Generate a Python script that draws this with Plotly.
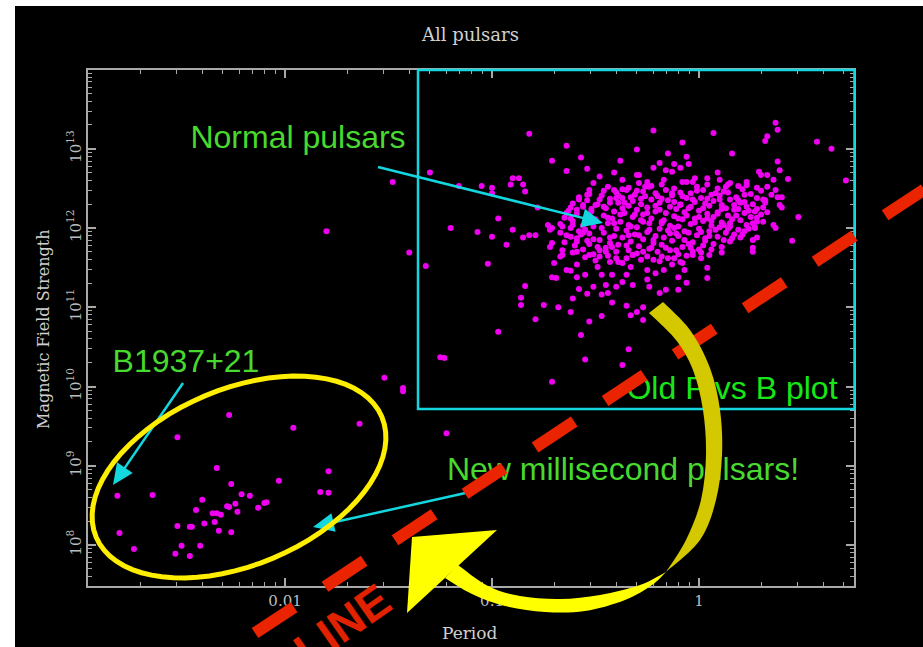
import math
import plotly.graph_objects as go

# ---------------- canvas / plot-area geometry (pixels) ----------------
W, H = 923, 647
PL, PT, PR, PB = 88, 70, 854, 586

# axis ranges (log10 units)
X_RANGE = [-2.952, 0.749]
Y_RANGE = [7.482, 13.995]

# ---------------- data (log10 Period [s], log10 B [G]) ----------------
msp_logP = [-2.27, -2.52, -1.96, -1.64, -2.33, -2.26, -2.81, -2.64, -2.21, -2.17,
            -2.40, -2.03, -1.79, -1.83, -1.79, -2.09, -2.10, -2.24, -2.28, -2.27,
            -2.43, -2.23, -2.13, -2.35, -2.33, -2.31, -2.39, -2.34, -2.52, -2.46,
            -2.45, -2.32, -2.26, -2.80, -2.50, -2.41, -2.73, -2.53, -2.46]
msp_logB = [9.64, 9.36, 9.48, 9.53, 8.97, 8.77, 8.62, 8.63, 8.64, 8.62,
            8.57, 8.81, 8.93, 8.67, 8.66, 8.54, 8.53, 8.52, 8.49, 8.48,
            8.44, 8.42, 8.47, 8.40, 8.40, 8.38, 8.27, 8.29, 8.24, 8.23,
            8.23, 8.18, 8.16, 8.15, 7.99, 7.99, 7.95, 7.89, 7.86]

# scattered / halo pulsars (log10 P, log10 B)
field_pts = [
    (-1.80, 11.96), (-1.48, 12.58), (-1.30, 12.70), (-1.40, 11.69), (-1.32, 11.52),
    (-1.20, 12.00), (-1.52, 10.11), (-1.43, 9.98), (-1.43, 9.94), (-1.23, 10.36),
    (-1.25, 10.37), (-1.22, 9.41), (-0.71, 10.06), (-0.55, 10.34), (-0.37, 10.27),
    (-0.34, 10.47), (-0.97, 10.69), (-0.79, 10.85), (-0.86, 11.03), (-0.86, 11.12),
    (-0.84, 11.27), (-0.75, 11.03), (-1.02, 11.55), (-0.57, 10.65), (-0.53, 10.82),
    (-0.47, 10.89), (-0.68, 11.00), (-0.62, 10.94), (-0.61, 11.11), (-0.54, 11.17),
    (-0.47, 11.16), (-0.42, 11.06), (-0.35, 11.02), (-0.33, 10.90), (-0.30, 10.94),
    (-0.27, 11.00), (-0.27, 10.84), (-0.19, 11.18), (0.26, 11.70), (0.45, 11.84),
    (0.48, 12.14), (0.36, 12.04), (0.37, 12.00), (0.26, 11.85), (0.26, 11.75),
    (0.71, 12.60), (0.64, 13.00), (0.57, 13.09), (0.37, 13.33), (0.38, 13.24),
    (0.33, 13.16), (0.32, 13.10), (0.07, 13.20), (-0.22, 13.23), (-0.08, 13.08),
    (0.16, 12.94), (-0.82, 13.19), (-0.64, 13.04), (-0.71, 12.85), (-0.57, 12.89),
    (-0.38, 12.85), (-0.30, 12.99), (-0.15, 12.94), (-0.06, 12.90), (-0.05, 12.81),
    (-0.64, 12.72), (-0.54, 12.75), (-0.90, 12.63), (-0.87, 12.63), (-0.91, 12.55),
    (-0.85, 12.55), (-0.84, 12.46), (-1.05, 12.53), (-1.00, 12.51), (-1.00, 12.44),
    (-1.16, 12.53), (-0.97, 12.12), (-1.07, 11.95), (-1.00, 11.89), (-0.90, 11.98),
    (-0.93, 11.79), (-0.78, 12.26), (-0.79, 11.91), (-0.82, 11.91), (-0.85, 11.88),
    (-0.48, 12.65), (-0.41, 12.70), (-0.37, 12.61), (-0.30, 12.67), (-0.22, 12.76),
    (-0.19, 12.82), (-0.16, 12.73), (-0.13, 12.71), (-0.09, 12.76), (-0.12, 12.81),
    (0.38, 12.84), (0.39, 12.73), (0.29, 12.71), (0.30, 12.67), (0.33, 12.67),
    (0.36, 12.61), (0.43, 12.62), (0.09, 12.70), (0.04, 12.63), (0.10, 12.61),
    (0.14, 12.55), (-0.02, 12.63), (-0.03, 12.58), (-0.08, 12.58), (-0.17, 12.61),
    (-0.25, 12.58), (-0.24, 12.52), (-0.29, 12.67), (0.33, 12.52), (0.37, 12.48),
    (0.38, 12.39), (0.40, 12.39), (0.31, 12.36), (0.32, 12.32), (0.39, 12.29),
    (0.40, 12.26), (0.28, 12.13), (0.27, 12.00), (0.28, 11.88),
    (-0.10, 11.22), (-0.16, 11.22), (-0.06, 11.31), (0.04, 11.37), (-0.10, 11.38),
    (-0.24, 11.26), (-0.25, 11.35), (-0.21, 11.43), (-0.17, 11.47), (-0.25, 11.47),
    (-0.13, 11.54), (-0.08, 11.56), (-0.07, 11.47), (-0.03, 11.66), (0.01, 11.62),
    (0.05, 11.66), (0.11, 11.69), (0.04, 11.50), (-0.22, 11.60), (-0.18, 11.64),
    (-0.71, 11.38), (-0.69, 11.37), (-0.64, 11.47), (-0.62, 11.46), (-0.70, 11.56),
    (-0.59, 11.54), (-0.55, 11.41), (-0.59, 11.38), (-0.66, 11.66), (-0.59, 11.70),
    (-0.53, 11.66), (-0.48, 11.64), (-0.49, 11.51), (-0.47, 11.41), (-0.51, 11.26),
    (-0.58, 11.23), (-0.45, 11.28), (-0.44, 11.18), (-0.40, 11.26), (-0.37, 11.32),
    (-0.32, 11.28), (-0.42, 11.41), (-0.35, 11.41), (-0.33, 11.51), (-0.37, 11.56),
    (-0.43, 11.57), (-0.32, 11.66),
    (-0.54, 12.42), (-0.51, 12.57), (-0.41, 12.48), (-0.35, 12.48), (-0.33, 12.39),
    (-0.40, 12.38), (-0.48, 12.36), (-0.43, 12.32), (-0.56, 12.29), (-0.62, 12.26),
    (-0.59, 12.23), (-0.64, 12.19), (-0.73, 12.04), (-0.71, 12.00), (-0.72, 11.98),
    (-0.66, 12.02), (-0.61, 12.04), (-0.67, 11.94), (-0.62, 11.89), (-0.56, 11.94),
    (-0.59, 11.83), (-0.71, 11.81), (-0.66, 11.72), (-0.72, 11.76), (-0.67, 11.64),
]

# dense core of the normal-pulsar population (log10 P, log10 B)
core_pts = [
    (-0.29, 12.57), (-0.18, 12.55), (-0.06, 12.58), (0.04, 12.55), (0.15, 12.57), (0.23, 12.54),
    (-0.34, 12.51), (-0.23, 12.53), (-0.12, 12.50), (-0.01, 12.52), (0.09, 12.50), (0.19, 12.53), (0.28, 12.51),
    (-0.46, 12.47), (-0.37, 12.49), (-0.27, 12.46), (-0.16, 12.48), (-0.09, 12.45), (0.02, 12.48), (0.12, 12.46), (0.21, 12.49), (0.30, 12.47),
    (-0.53, 12.43), (-0.40, 12.45), (-0.31, 12.42), (-0.21, 12.44), (-0.13, 12.41), (-0.04, 12.44), (0.06, 12.42), (0.14, 12.45), (0.25, 12.43),
    (-0.58, 12.39), (-0.47, 12.41), (-0.37, 12.38), (-0.26, 12.40), (-0.18, 12.37), (-0.08, 12.40), (0.01, 12.38), (0.10, 12.41), (0.18, 12.39), (0.28, 12.38),
    (-0.54, 12.35), (-0.43, 12.37), (-0.32, 12.34), (-0.23, 12.36), (-0.12, 12.33), (-0.03, 12.36), (0.07, 12.34), (0.15, 12.36), (0.22, 12.33), (0.32, 12.35),
    (-0.61, 12.31), (-0.50, 12.29), (-0.39, 12.32), (-0.28, 12.30), (-0.19, 12.32), (-0.09, 12.29), (0.03, 12.31), (0.11, 12.29), (0.20, 12.32), (0.26, 12.30),
    (-0.56, 12.27), (-0.45, 12.25), (-0.34, 12.28), (-0.25, 12.26), (-0.14, 12.27), (-0.05, 12.25), (0.05, 12.28), (0.13, 12.25), (0.23, 12.27), (0.31, 12.26),
    (-0.63, 12.22), (-0.52, 12.24), (-0.41, 12.21), (-0.30, 12.23), (-0.21, 12.21), (-0.11, 12.24), (0.00, 12.22), (0.09, 12.20), (0.17, 12.23), (0.27, 12.21),
    (-0.59, 12.18), (-0.46, 12.16), (-0.36, 12.19), (-0.27, 12.17), (-0.16, 12.19), (-0.06, 12.16), (0.04, 12.18), (0.14, 12.16), (0.22, 12.19), (0.30, 12.17),
    (-0.65, 12.13), (-0.54, 12.15), (-0.42, 12.12), (-0.32, 12.14), (-0.23, 12.12), (-0.12, 12.15), (-0.02, 12.12), (0.07, 12.14), (0.16, 12.11), (0.25, 12.14),
    (-0.61, 12.09), (-0.50, 12.11), (-0.38, 12.08), (-0.28, 12.10), (-0.18, 12.08), (-0.08, 12.11), (0.02, 12.09), (0.11, 12.07), (0.20, 12.10), (0.28, 12.08),
    (-0.67, 12.05), (-0.56, 12.03), (-0.44, 12.06), (-0.34, 12.04), (-0.24, 12.06), (-0.14, 12.03), (-0.04, 12.05), (0.06, 12.03), (0.15, 12.06), (0.23, 12.04),
    (-0.62, 12.00), (-0.51, 12.02), (-0.40, 11.99), (-0.30, 12.01), (-0.19, 11.99), (-0.10, 12.02), (0.00, 11.99), (0.10, 12.01), (0.19, 11.98), (0.27, 12.01),
    (-0.58, 11.96), (-0.46, 11.94), (-0.35, 11.97), (-0.25, 11.95), (-0.15, 11.97), (-0.05, 11.94), (0.05, 11.96), (0.13, 11.94), (0.22, 11.96),
    (-0.64, 11.91), (-0.53, 11.93), (-0.41, 11.90), (-0.31, 11.92), (-0.21, 11.90), (-0.11, 11.93), (-0.01, 11.91), (0.09, 11.89), (0.17, 11.92),
    (-0.59, 11.87), (-0.48, 11.85), (-0.37, 11.88), (-0.27, 11.86), (-0.17, 11.88), (-0.07, 11.85), (0.03, 11.87), (0.12, 11.85), (0.20, 11.88),
    (-0.65, 11.82), (-0.54, 11.84), (-0.43, 11.81), (-0.33, 11.83), (-0.22, 11.81), (-0.13, 11.84), (-0.03, 11.82), (0.07, 11.80), (0.15, 11.83),
    (-0.60, 11.78), (-0.49, 11.76), (-0.39, 11.79), (-0.29, 11.77), (-0.18, 11.79), (-0.08, 11.76), (0.02, 11.78), (0.11, 11.76),
    (-0.56, 11.73), (-0.45, 11.75), (-0.34, 11.72), (-0.24, 11.74), (-0.14, 11.72), (-0.04, 11.75), (0.06, 11.73),
    (-0.61, 11.69), (-0.51, 11.67), (-0.40, 11.70), (-0.30, 11.68), (-0.20, 11.70), (-0.10, 11.67), (0.01, 11.69),
    (-0.55, 11.63), (-0.44, 11.65), (-0.35, 11.62), (-0.25, 11.64), (-0.15, 11.62), (-0.06, 11.65),
    (-0.50, 11.59), (-0.39, 11.57), (-0.28, 11.60), (-0.19, 11.58), (-0.09, 11.57),
]

# additional core pulsars filling the gaps between the rows above
core_fill_pts = [
    (-0.52, 12.21), (-0.44, 12.13), (-0.37, 12.25), (-0.33, 12.02), (-0.28, 12.37), (-0.24, 11.98),
    (-0.21, 12.28), (-0.17, 12.10), (-0.13, 12.44), (-0.10, 11.90), (-0.07, 12.20), (-0.02, 12.33),
    (0.01, 11.95), (0.04, 12.12), (0.08, 12.44), (0.12, 12.04), (0.17, 12.29), (0.21, 11.92),
    (0.24, 12.22), (-0.47, 12.00), (-0.43, 11.88), (-0.39, 12.41), (-0.35, 11.78), (-0.31, 12.17),
    (-0.26, 12.52), (-0.22, 11.85), (-0.18, 12.06), (-0.15, 12.35), (-0.11, 11.72), (-0.07, 11.96),
    (-0.04, 12.27), (-0.01, 12.47), (0.03, 11.84), (0.06, 12.09), (0.10, 12.36), (0.14, 11.99),
    (0.18, 12.16), (0.22, 12.42), (0.26, 12.06), (-0.57, 11.92), (-0.53, 11.80), (-0.49, 12.30),
    (-0.45, 11.70), (-0.41, 12.06), (-0.36, 12.32), (-0.32, 11.66), (-0.29, 11.91), (-0.25, 12.19),
    (-0.20, 12.40), (-0.16, 11.75), (-0.12, 12.00), (-0.09, 12.30), (-0.05, 11.80), (-0.02, 12.07),
    (0.02, 12.25), (0.05, 11.90), (0.09, 12.18), (0.13, 12.52), (0.16, 11.87), (0.19, 12.24),
    (0.23, 12.58), (-0.62, 12.12), (-0.58, 12.36), (-0.55, 11.98), (-0.51, 11.86), (-0.46, 12.27),
    (-0.42, 11.76), (-0.38, 12.17), (-0.34, 11.91), (-0.30, 12.47), (-0.27, 12.08), (-0.23, 11.75),
    (-0.19, 12.23), (-0.14, 11.93), (-0.10, 12.12), (-0.06, 12.38), (-0.03, 11.70), (0.00, 12.14),
    (0.04, 12.37), (0.08, 11.98), (0.11, 12.24), (0.15, 12.02), (0.19, 12.35), (0.24, 11.99),
    (0.28, 12.24), (-0.48, 11.72), (-0.40, 11.62), (-0.27, 11.70), (-0.12, 11.62), (0.00, 11.73),
    (-0.53, 12.48), (-0.44, 12.52), (0.33, 12.20), (0.35, 12.42), (0.31, 12.08),
]

# texts
TITLE = "All pulsars"
X_TITLE = "Period"
Y_TITLE = "Magnetic Field Strength"

# ---------------- helpers: pixel -> paper ----------------
def fx(x):
    return (x - PL) / (PR - PL)

def fy(y):
    return (PB - y) / (PB - PT)

def pp(p):
    return f"{fx(p[0]):.5f},{fy(p[1]):.5f}"

def poly(pts):
    return "M " + " L ".join(pp(p) for p in pts) + " Z"

def smooth(pts):
    segs = []
    n = len(pts)
    for i in range(n - 1):
        p0 = pts[i - 1] if i > 0 else pts[i]
        p1, p2 = pts[i], pts[i + 1]
        p3 = pts[i + 2] if i + 2 < n else pts[i + 1]
        c1 = (p1[0] + (p2[0] - p0[0]) / 6, p1[1] + (p2[1] - p0[1]) / 6)
        c2 = (p2[0] - (p3[0] - p1[0]) / 6, p2[1] - (p3[1] - p1[1]) / 6)
        segs.append(f"C {pp(c1)} {pp(c2)} {pp(p2)}")
    return " ".join(segs)

CYAN = "#14d6de"
GREEN = "#48d92e"
RED = "#ea2300"
YEL = "#ffff00"
DYEL = "#d4c900"
AX = "#a8a8a8"

shapes = []
# black slide background (white strip on top/left)
shapes.append(dict(type="rect", xref="paper", yref="paper", layer="below",
                   x0=fx(15), x1=fx(930), y0=fy(655), y1=fy(6),
                   fillcolor="black", line=dict(width=0)))
# cyan "old plot" frame
shapes.append(dict(type="rect", xref="paper", yref="paper",
                   x0=fx(418), x1=fx(854.5), y0=fy(409), y1=fy(70),
                   line=dict(color=CYAN, width=2.5)))

# green labels (as shape labels so overlays can sit on top)
def text_shape(txt, cx, cy, color, size=32):
    shapes.append(dict(type="rect", xref="paper", yref="paper",
                       x0=fx(cx - 5), x1=fx(cx + 5), y0=fy(cy + 5), y1=fy(cy - 5),
                       line=dict(width=0), fillcolor="rgba(0,0,0,0)",
                       label=dict(text=txt, textposition="middle center",
                                  font=dict(family="Liberation Sans, Arial", size=size, color=color))))

text_shape("Normal pulsars", 298, 134, GREEN)
text_shape("B1937+21", 186, 358, GREEN)
text_shape("New millisecond pulsars!", 623, 466, GREEN)
text_shape("Old P vs B plot", 732, 385, "#18e618")

# cyan arrows
def arrow(tail, tip, head_len=21, head_w=19, width=2.5):
    dx, dy = tip[0] - tail[0], tip[1] - tail[1]
    d = math.hypot(dx, dy)
    ux, uy = dx / d, dy / d
    base = (tip[0] - ux * head_len, tip[1] - uy * head_len)
    left = (base[0] - uy * head_w / 2, base[1] + ux * head_w / 2)
    right = (base[0] + uy * head_w / 2, base[1] - ux * head_w / 2)
    shapes.append(dict(type="line", xref="paper", yref="paper",
                       x0=fx(tail[0]), y0=fy(tail[1]), x1=fx(base[0] + ux * 3), y1=fy(base[1] + uy * 3),
                       line=dict(color=CYAN, width=width)))
    shapes.append(dict(type="path", xref="paper", yref="paper",
                       path=poly([tip, left, right]), fillcolor=CYAN, line=dict(width=0)))

arrow((378, 167), (603, 223))
arrow((183, 383), (113, 485))
arrow((470, 492), (313, 527))

# yellow ellipse around the millisecond pulsars
cx, cy, a, b, th = 239, 477, 155, 88, math.radians(22.8)
ell = []
for k in range(73):
    t = 2 * math.pi * k / 72
    ell.append((cx + a * math.cos(th) * math.cos(t) - b * math.sin(th) * math.sin(t),
                cy - (a * math.sin(th) * math.cos(t) + b * math.cos(th) * math.sin(t))))
shapes.append(dict(type="path", xref="paper", yref="paper",
                   path="M " + " L ".join(pp(p) for p in ell) + " Z",
                   line=dict(color="#ffee00", width=5)))

# red dashed line
x0d, y0d = 255, 633.1
x1d = 940
y1d = y0d - 0.663 * (x1d - x0d)
shapes.append(dict(type="line", xref="paper", yref="paper",
                   x0=fx(x0d), y0=fy(y0d), x1=fx(x1d), y1=fy(y1d),
                   line=dict(color=RED, width=12, dash="47px,37px")))

# yellow curved arrow: dark back part
dark_outer = [(663, 302), (690, 330), (710, 368), (720, 410), (722, 455), (716, 500), (700, 540), (666, 572)]
dark_inner = [(666, 572), (686, 540), (701, 500), (706, 455), (703, 410), (693, 370), (676, 340), (649, 313)]
shapes.append(dict(type="path", xref="paper", yref="paper",
                   path="M " + pp(dark_outer[0]) + " " + smooth(dark_outer) + " L " + pp(dark_inner[0]) + " "
                        + smooth(dark_inner) + " Z",
                   fillcolor=DYEL, line=dict(width=0)))
# bright front part
br_upper = [(666, 572), (640, 585), (600, 595), (560, 599), (520, 596), (488, 586), (458, 565)]
br_lower = [(445, 578), (472, 594), (505, 606), (545, 612), (585, 611), (625, 600), (652, 585), (666, 572)]
shapes.append(dict(type="path", xref="paper", yref="paper",
                   path="M " + pp(br_upper[0]) + " " + smooth(br_upper) + " L " + pp(br_lower[0]) + " "
                        + smooth(br_lower) + " Z",
                   fillcolor=YEL, line=dict(width=0)))
shapes.append(dict(type="path", xref="paper", yref="paper",
                   path=poly([(412, 537), (497, 530), (407, 613)]),
                   fillcolor=YEL, line=dict(width=0)))

# ---------------- figure ----------------
fig = go.Figure()
all_pts = field_pts + core_pts + core_fill_pts
fig.add_trace(go.Scatter(
    x=[10 ** p for p in msp_logP] + [10 ** p for p, _ in all_pts],
    y=[10 ** v for v in msp_logB] + [10 ** v for _, v in all_pts],
    mode="markers",
    marker=dict(color="#f000f0", size=6, line=dict(width=0)),
    hoverinfo="skip",
))

SERIF = "DejaVu Serif"
axis_common = dict(type="log", showgrid=False, zeroline=False, showline=True,
                   linecolor=AX, linewidth=2, mirror="ticks", ticks="inside",
                   ticklen=8, tickwidth=1.5, tickcolor=AX, dtick=1,
                   minor=dict(ticks="inside", ticklen=4, tickwidth=1, tickcolor=AX, showgrid=False))

fig.update_layout(
    width=W, height=H,
    margin=dict(l=PL, r=W - PR, t=PT, b=H - PB),
    paper_bgcolor="white", plot_bgcolor="black",
    showlegend=False,
    xaxis=dict(range=X_RANGE, tickfont=dict(family=SERIF, size=15, color="#bdbdbd"), **axis_common),
    yaxis=dict(range=Y_RANGE, exponentformat="power", tickangle=-90,
               tickfont=dict(family=SERIF, size=12, color="#bdbdbd"), **axis_common),
    shapes=shapes,
    annotations=[
        dict(text=TITLE, xref="paper", yref="paper", x=fx(470), y=fy(34), showarrow=False,
             xanchor="center", yanchor="middle", font=dict(family=SERIF, size=18, color="#d0d0d0")),
        dict(text=X_TITLE, xref="paper", yref="paper", x=fx(470), y=fy(633), showarrow=False,
             xanchor="center", yanchor="middle", font=dict(family=SERIF, size=17, color="#d0d0d0")),
        dict(text=Y_TITLE, xref="paper", yref="paper", x=fx(43), y=fy(330), showarrow=False,
             textangle=-90, xanchor="center", yanchor="middle",
             font=dict(family=SERIF, size=16, color="#d0d0d0")),
        dict(text="<b>LINE</b>", xref="paper", yref="paper", x=fx(342), y=fy(625), showarrow=False,
             textangle=-35, xanchor="center", yanchor="middle",
             font=dict(family="Liberation Sans, Arial", size=46, color="#e02200")),
    ],
)

fig.write_html("out.html", config={"displayModeBar": False})
